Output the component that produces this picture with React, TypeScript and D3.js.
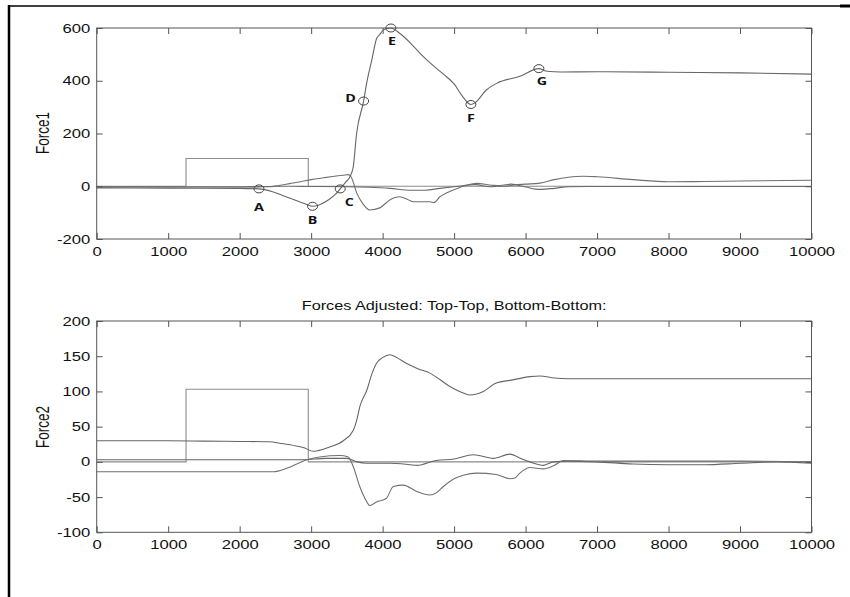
import React, { useEffect, useRef } from 'react';
import * as d3 from 'd3';

// tick values
const xTicks = [0, 1000, 2000, 3000, 4000, 5000, 6000, 7000, 8000, 9000, 10000];
const force1Ticks = [-200, 0, 200, 400, 600];
const force2Ticks = [-100, -50, 0, 50, 100, 150, 200];

// Force1 panel
const pulseX = [0, 1250, 1250, 2960, 2960, 10000];
const pulse1Y = [0, 0, 105, 105, 0, 0];
const main1X = [0, 1000, 2000, 2270, 2450, 2600, 2800, 2930, 3020, 3120, 3250, 3350, 3407, 3480, 3543, 3589, 3636, 3734, 3776, 3850, 3916, 3960, 4009, 4116, 4242, 4400, 4520, 4700, 4850, 5000, 5120, 5235, 5300, 5447, 5594, 5920, 6186, 6300, 6500, 7000, 8000, 9000, 10000];
const main1Y = [-6, -7, -8, -10, -20, -35, -55, -68, -76, -70, -50, -28, -10, 15, 36, 74, 200, 323, 390, 480, 560, 575, 592, 600, 579, 540, 505, 459, 425, 388, 340, 310, 318, 364, 390, 417, 446, 436, 433, 434, 432, 430, 425];
const bump1X = [0, 1000, 2000, 2400, 2550, 2700, 2850, 3000, 3170, 3300, 3450, 3520, 3560, 3640, 3720, 3820, 3960, 4100, 4240, 4350, 4430, 4660, 4720, 4800, 4900, 4990, 5175, 5315, 5500, 5700, 5850, 6000, 6200, 6400, 6600, 6800, 7000, 7500, 8000, 8500, 9000, 10000];
const bump1Y = [-3, -3, -3, -2, 3, 10, 17, 25, 32, 37, 42, 44, 35, -27, -65, -90, -82, -52, -40, -50, -59, -59, -62, -40, -25, -14, 4, 11, 5, 0, 5, 8, 12, 25, 34, 38, 36, 25, 17, 18, 20, 23];
const flat1X = [0, 2000, 2300, 2700, 3000, 3500, 3800, 4100, 4400, 4600, 4800, 5000, 5300, 5500, 5800, 6000, 6200, 6400, 6600, 7000, 8000, 9000, 10000];
const flat1Y = [-2, -2, -1, 0, -1, -2, -4, -8, -15, -15, -8, -2, 6, -2, 8, -3, -12, -8, -2, -1, -1, -1, -1];

// marked points on the Force1 curve
const markLabels = ['A', 'B', 'C', 'D', 'E', 'F', 'G'];
const markX = [2270, 3020, 3407, 3734, 4116, 5235, 6186];
const markY = [-10, -76, -10, 323, 600, 310, 446];

// Force2 panel
const pulse2Y = [0, 0, 103, 103, 0, 0];
const upper2X = [0, 1000, 1500, 2000, 2420, 2560, 2790, 2900, 3030, 3100, 3260, 3450, 3590, 3640, 3680, 3780, 3850, 3915, 4000, 4100, 4200, 4330, 4500, 4660, 4800, 4940, 5100, 5220, 5300, 5410, 5590, 5800, 6060, 6200, 6400, 6600, 7000, 10000];
const upper2Y = [30, 30, 29.5, 29, 28.5, 26.5, 22.6, 20, 15, 16, 21, 30, 45, 60, 78, 102, 125, 140, 148, 152, 148, 140, 132, 126, 117, 107, 99, 95, 96, 100, 112, 116, 121, 122, 119, 118, 118, 118];
const lower2X = [0, 1000, 2470, 2660, 2800, 2940, 3120, 3400, 3520, 3590, 3680, 3770, 3820, 3915, 4050, 4150, 4290, 4475, 4660, 4750, 4850, 5000, 5130, 5315, 5590, 5780, 5850, 5920, 6060, 6250, 6400, 6530, 7000, 8000, 9000, 10000];
const lower2Y = [-14, -14, -14, -9, -3, 3, 7, 9, 7, -7, -35, -55, -62, -57, -52, -35, -33, -42, -47, -44, -35, -24, -19, -16, -18, -24, -23, -16, -8, -10, -5, 2, 1, 1, 1, 0];
const flat2X = [0, 2000, 2900, 3200, 3500, 3640, 3780, 4100, 4380, 4480, 4750, 5000, 5270, 5550, 5780, 5950, 6060, 6250, 6390, 6600, 7000, 7500, 8000, 8500, 9000, 9500, 10000];
const flat2Y = [3, 3, 3, 5, 5, 0, -2, -2, -4, -5, 2, 4, 10, 5, 11, 4, 0, -5, 0, 1, 0, -3, -4, -4, -2, 0, -2];

const SX = 1.3; // the picture is stretched sideways
const FONT = '"Liberation Sans", Arial, sans-serif';

export default function App() {
  const ref = useRef<SVGSVGElement>(null);

  useEffect(() => {
    const svg = d3.select(ref.current);
    svg.selectAll('*').remove();

    const left = 96.7, right = 811.5;
    const x = d3.scaleLinear().domain([0, 10000]).range([left, right]);

    const panels = [
      {
        top: 28, bottom: 239, domain: [-200, 600], ticks: force1Ticks, label: 'Force1', labelY: 133,
        series: [
          { x: pulseX, y: pulse1Y, color: '#8c8c8c', curve: d3.curveLinear },
          { x: flat1X, y: flat1Y, color: '#6a6a6a', curve: d3.curveMonotoneX },
          { x: bump1X, y: bump1Y, color: '#707070', curve: d3.curveMonotoneX },
          { x: main1X, y: main1Y, color: '#666', curve: d3.curveMonotoneX },
        ],
      },
      {
        top: 321, bottom: 532.3, domain: [-100, 200], ticks: force2Ticks, label: 'Force2', labelY: 427,
        series: [
          { x: pulseX, y: pulse2Y, color: '#8c8c8c', curve: d3.curveLinear },
          { x: flat2X, y: flat2Y, color: '#666', curve: d3.curveMonotoneX },
          { x: lower2X, y: lower2Y, color: '#707070', curve: d3.curveMonotoneX },
          { x: upper2X, y: upper2Y, color: '#666', curve: d3.curveMonotoneX },
        ],
      },
    ];

    const yScales: d3.ScaleLinear<number, number>[] = [];

    panels.forEach((p) => {
      const y = d3.scaleLinear().domain(p.domain).range([p.bottom, p.top]);
      yScales.push(y);
      const g = svg.append('g');

      p.series.forEach((s) => {
        const line = d3.line<[number, number]>()
          .x((d) => x(d[0]))
          .y((d) => y(d[1]))
          .curve(s.curve);
        g.append('path')
          .datum(d3.zip(s.x, s.y) as [number, number][])
          .attr('d', line)
          .attr('fill', 'none')
          .attr('stroke', s.color)
          .attr('stroke-width', 1.1);
      });

      const styleAxis = (ax: any) => {
        ax.select('.domain').remove();
        ax.attr('color', '#555').attr('font-family', FONT).attr('font-size', 12.8);
        ax.selectAll('text').attr('fill', '#111');
      };

      const gb = g.append('g')
        .attr('transform', 'translate(0,' + p.bottom + ')')
        .call(d3.axisBottom(x).tickValues(xTicks).tickSizeInner(-6).tickSizeOuter(0).tickPadding(8)
          .tickFormat((d) => String(d)));
      styleAxis(gb);
      gb.selectAll('text').attr('transform', 'scale(' + SX + ',1)');

      const gt = g.append('g')
        .attr('transform', 'translate(0,' + p.top + ')')
        .call(d3.axisTop(x).tickValues(xTicks).tickSizeInner(-6).tickSizeOuter(0).tickFormat(() => ''));
      styleAxis(gt);

      const gl = g.append('g')
        .attr('transform', 'translate(' + left + ',0)')
        .call(d3.axisLeft(y).tickValues(p.ticks).tickSizeInner(-6).tickSizeOuter(0).tickPadding(5)
          .tickFormat((d) => String(d)));
      styleAxis(gl);
      gl.selectAll('text').attr('transform', 'scale(' + SX + ',1)');

      const gr = g.append('g')
        .attr('transform', 'translate(' + right + ',0)')
        .call(d3.axisRight(y).tickValues(p.ticks).tickSizeInner(-6).tickSizeOuter(0).tickFormat(() => ''));
      styleAxis(gr);

      g.append('rect')
        .attr('x', left).attr('y', p.top)
        .attr('width', right - left).attr('height', p.bottom - p.top)
        .attr('fill', 'none').attr('stroke', '#555').attr('stroke-width', 1);

      g.append('text')
        .text(p.label)
        .attr('transform', 'translate(49,' + p.labelY + ') scale(' + SX + ',1) rotate(-90)')
        .attr('text-anchor', 'middle')
        .attr('font-family', FONT)
        .attr('font-size', 13.5)
        .attr('fill', '#111');
    });

    // letters on the Force1 curve
    const yTop = yScales[0];
    const labelOffset: Record<string, [number, number]> = {
      A: [0, 18], B: [0, 14], C: [9, 13], D: [-13, -3], E: [1, 13], F: [0, 14], G: [3, 12],
    };
    const marks = svg.append('g');
    markLabels.forEach((lab, i) => {
      const cx = x(markX[i]);
      const cy = yTop(markY[i]);
      marks.append('ellipse')
        .attr('cx', cx).attr('cy', cy).attr('rx', 5).attr('ry', 4)
        .attr('fill', 'none').attr('stroke', '#444').attr('stroke-width', 1);
      const off = labelOffset[lab];
      marks.append('text')
        .text(lab)
        .attr('transform', 'translate(' + (cx + off[0]) + ',' + (cy + off[1] + 4) + ') scale(' + SX + ',1)')
        .attr('text-anchor', 'middle')
        .attr('font-family', '"Open Sans", sans-serif')
        .attr('font-weight', 'bold')
        .attr('font-size', 11)
        .attr('fill', '#111');
    });

    // title of the second panel
    svg.append('text')
      .text('Forces Adjusted: Top-Top, Bottom-Bottom:')
      .attr('transform', 'translate(' + ((left + right) / 2) + ',309.5) scale(' + SX + ',1)')
      .attr('text-anchor', 'middle')
      .attr('font-family', FONT)
      .attr('font-size', 12.5)
      .attr('fill', '#111');

    // frame of the scanned figure
    svg.append('line').attr('x1', 9).attr('y1', 6).attr('x2', 850).attr('y2', 6)
      .attr('stroke', '#000').attr('stroke-width', 1.5);
    svg.append('line').attr('x1', 9).attr('y1', 5).attr('x2', 9).attr('y2', 597)
      .attr('stroke', '#000').attr('stroke-width', 2.5);
    svg.append('line').attr('x1', 840).attr('y1', 6).attr('x2', 850).attr('y2', 6)
      .attr('stroke', '#000').attr('stroke-width', 3);
  }, []);

  return (
    <svg
      ref={ref}
      width={850}
      height={597}
      style={{ position: 'absolute', left: 0, top: 0, background: '#fff' }}
    />
  );
}
